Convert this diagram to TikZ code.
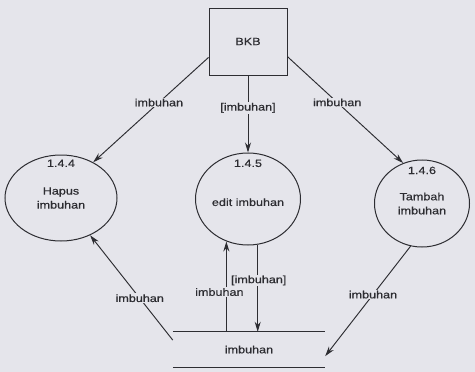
\documentclass[tikz,border=0pt]{standalone}
\usepackage{fontspec}
\setmainfont{Liberation Sans}
\newfontfamily\dfd[FakeStretch=1.2,FakeBold=0.6]{Liberation Sans}
\usetikzlibrary{shapes.geometric,arrows.meta}
\definecolor{bg}{RGB}{229,229,235}
\definecolor{ink}{RGB}{45,45,50}
\begin{document}
\begin{tikzpicture}[x=1pt,y=-1pt,
  every node/.style={font=\dfd\fontsize{10.5}{14}\selectfont, text=ink},
  proc/.style={ellipse, draw=ink, line width=1pt, inner sep=0pt, align=center},
  ent/.style={rectangle, draw=ink, line width=1pt, minimum width=78pt, minimum height=67pt},
  flow/.style={draw=ink, line width=0.95pt, -{Stealth[length=10pt,width=6pt]}},
  lbl/.style={fill=bg, inner sep=1pt},
  numlbl/.style={anchor=north, inner sep=0pt}
]
\fill[bg] (0,0) rectangle (475,372);
\useasboundingbox (0,0) rectangle (475,372);

\node[ent] (bkb) at (248,41.5) {BKB};
\node[proc, minimum width=112pt, minimum height=86pt,
      label={[numlbl, yshift=-5pt]north:1.4.4}] (hapus) at (61,198) {Hapus\\imbuhan};
\node[proc, minimum width=105pt, minimum height=92pt,
      label={[numlbl, yshift=-7pt]north:1.4.5}] (edit) at (248,199) {\\edit imbuhan};
\node[proc, minimum width=95pt, minimum height=87pt,
      label={[numlbl, yshift=-7pt]north:1.4.6}] (tambah) at (422,203.5) {Tambah\\imbuhan};
\node[minimum width=152pt, minimum height=35pt, inner sep=0pt] (store) at (249,349.5) {imbuhan};
\draw[ink, line width=1pt] (store.north west) -- (store.north east);
\draw[ink, line width=1pt] (store.south west) -- (store.south east);

\draw[flow] (bkb.202) -- node[lbl,pos=0.43]{imbuhan} (hapus.48);
\draw[flow] (bkb.south) -- node[lbl,pos=0.42]{[imbuhan]} (edit.north);
\draw[flow] (bkb.-21) -- node[lbl,pos=0.43]{imbuhan} (tambah.115);

\draw[flow] (store.173) -- node[lbl,pos=0.4]{imbuhan} (hapus.-52);
\draw[flow] (tambah.255) -- node[lbl,pos=0.44]{imbuhan} (store.-5);
\draw[flow] (store.north -| edit.243) -- node[lbl,pos=0.44,xshift=-7pt]{imbuhan} (edit.243);
\draw[flow] (edit.282) -- node[lbl,pos=0.41,xshift=1pt]{[imbuhan]} (edit.282 |- store.north);
\end{tikzpicture}
\end{document}
